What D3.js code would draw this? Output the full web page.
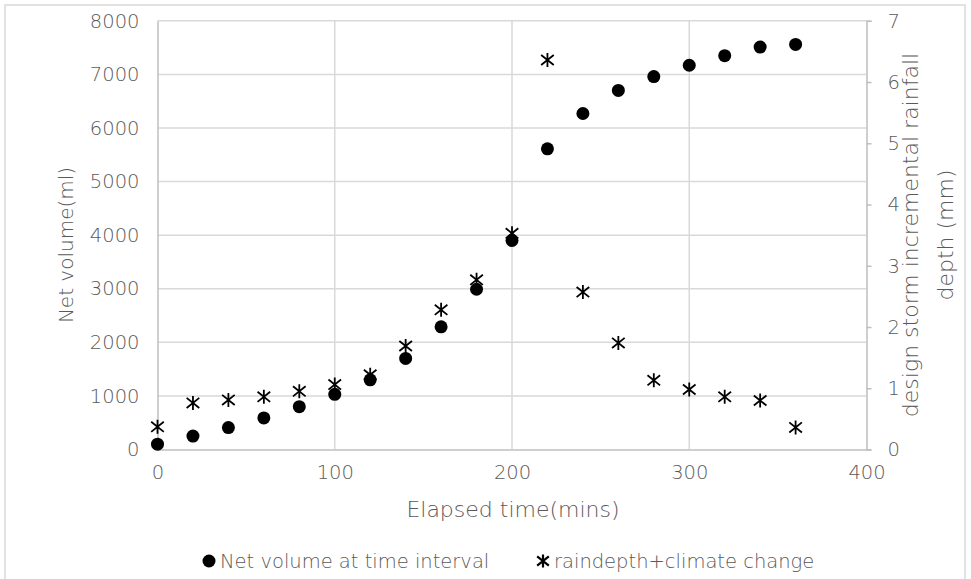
<!DOCTYPE html>
<html>
<head>
<meta charset="utf-8">
<script src="https://cdn.jsdelivr.net/npm/d3@7"></script>
<style>
  body { margin: 0; background: #fff; }
  svg text { font-family: "DejaVu Sans", "Open Sans", sans-serif; font-weight: 200; fill: #595959; }
</style>
</head>
<body>
<div id="chart"></div>
<script>
"use strict";

// data
var times = [0, 20, 40, 60, 80, 100, 120, 140, 160, 180, 200, 220, 240, 260, 280, 300, 320, 340, 360];
var netVolume = [100, 250, 410, 590, 800, 1030, 1300, 1700, 2290, 2990, 3900, 5610, 6270, 6700, 6960, 7170, 7350, 7510, 7560];
var rainDepth = [0.37, 0.76, 0.81, 0.86, 0.95, 1.06, 1.22, 1.69, 2.28, 2.77, 3.53, 6.36, 2.57, 1.74, 1.13, 0.98, 0.86, 0.80, 0.36];
var xTicks = [0, 100, 200, 300, 400];
var yTicks = [0, 1000, 2000, 3000, 4000, 5000, 6000, 7000, 8000];
var y2Ticks = [0, 1, 2, 3, 4, 5, 6, 7];
var legendLabels = ["Net volume at time interval", "raindepth+climate change"];

var width = 971, height = 579;
var plotLeft = 157.5, plotRight = 866.5, plotTop = 20.8, plotBottom = 449.5;

var svg = d3.select("#chart").append("svg").attr("width", width).attr("height", height);

// outer frame
svg.append("rect").attr("x", 5).attr("y", 5).attr("width", 960).attr("height", 590)
  .style("fill", "none").style("stroke", "#d9d9d9").style("stroke-width", 1.5);

var x = d3.scaleLinear().domain([0, 400]).range([plotLeft, plotRight]);
var y = d3.scaleLinear().domain([0, 8000]).range([plotBottom, plotTop]);
var y2 = d3.scaleLinear().domain([0, 7]).range([plotBottom, plotTop]);

// gridlines
svg.append("g").selectAll("line").data(yTicks.slice(1)).enter().append("line")
  .attr("x1", plotLeft).attr("x2", plotRight).attr("y1", function (d) { return y(d); }).attr("y2", function (d) { return y(d); })
  .style("stroke", "#d9d9d9").style("stroke-width", 1.5);
svg.append("g").selectAll("line").data(xTicks.slice(1, -1)).enter().append("line")
  .attr("y1", plotTop).attr("y2", plotBottom).attr("x1", function (d) { return x(d); }).attr("x2", function (d) { return x(d); })
  .style("stroke", "#d9d9d9").style("stroke-width", 1.5);

// axes
var fmt = d3.format("d");
var xAxis = svg.append("g").attr("transform", "translate(0," + plotBottom + ")")
  .call(d3.axisBottom(x).tickValues(xTicks).tickFormat(fmt).tickSize(0).tickPadding(16));
var yAxis = svg.append("g").attr("transform", "translate(" + plotLeft + ",0)")
  .call(d3.axisLeft(y).tickValues(yTicks).tickFormat(fmt).tickSize(0).tickPadding(18));
var y2Axis = svg.append("g").attr("transform", "translate(" + plotRight + ",0)")
  .call(d3.axisRight(y2).tickValues(y2Ticks).tickFormat(fmt).tickSize(5).tickPadding(16));

[xAxis, yAxis, y2Axis].forEach(function (a) {
  a.attr("font-family", null).attr("font-size", null);
  a.select(".domain").style("stroke", "#bfbfbf").style("stroke-width", 1.5);
  a.selectAll(".tick line").style("stroke", "#bfbfbf").style("stroke-width", 1.5);
  a.selectAll("text").style("font-size", "19.5px").style("fill", "#595959");
});

// axis titles
svg.append("text").attr("x", 513).attr("y", 509).attr("text-anchor", "middle")
  .attr("dominant-baseline", "central").style("font-size", "22px").text("Elapsed time(mins)");
svg.append("text").attr("transform", "translate(66,245) rotate(-90)").attr("text-anchor", "middle")
  .attr("dominant-baseline", "central").style("font-size", "20px").text("Net volume(ml)");
var rt = svg.append("text").attr("transform", "translate(910,235) rotate(-90)").attr("text-anchor", "middle")
  .style("font-size", "22px");
rt.append("tspan").attr("x", 0).attr("dy", "0.35em").text("design storm incremental rainfall");
rt.append("tspan").attr("x", 0).attr("dy", "1.6em").text("depth (mm)");

// star marker path (vertical line + x)
function starPath(s) {
  var dx = s * 0.9, dy = s * 0.72;
  return "M0," + (-s) + "L0," + s +
    "M" + (-dx) + "," + (-dy) + "L" + dx + "," + dy +
    "M" + (-dx) + "," + dy + "L" + dx + "," + (-dy);
}

// net volume series
svg.append("g").selectAll("circle").data(times).enter().append("circle")
  .attr("cx", function (d) { return x(d); })
  .attr("cy", function (d, i) { return y(netVolume[i]); })
  .attr("r", 6.5).style("fill", "#000");

// rain depth series
svg.append("g").selectAll("path").data(times).enter().append("path")
  .attr("transform", function (d, i) { return "translate(" + x(d) + "," + y2(rainDepth[i]) + ")"; })
  .attr("d", starPath(7)).style("fill", "none").style("stroke", "#000").style("stroke-width", 1.8);

// legend
var legend = svg.append("g").attr("transform", "translate(0,561)");
legend.append("circle").attr("cx", 209).attr("cy", 0).attr("r", 6.5).style("fill", "#000");
legend.append("text").attr("x", 220).attr("y", 0).attr("dominant-baseline", "central")
  .style("font-size", "19.5px").text(legendLabels[0]);
legend.append("path").attr("transform", "translate(543,0)").attr("d", starPath(6.5))
  .style("fill", "none").style("stroke", "#000").style("stroke-width", 2.2);
legend.append("text").attr("x", 554).attr("y", 0).attr("dominant-baseline", "central")
  .style("font-size", "19.5px").text(legendLabels[1]);
</script>
</body>
</html>
